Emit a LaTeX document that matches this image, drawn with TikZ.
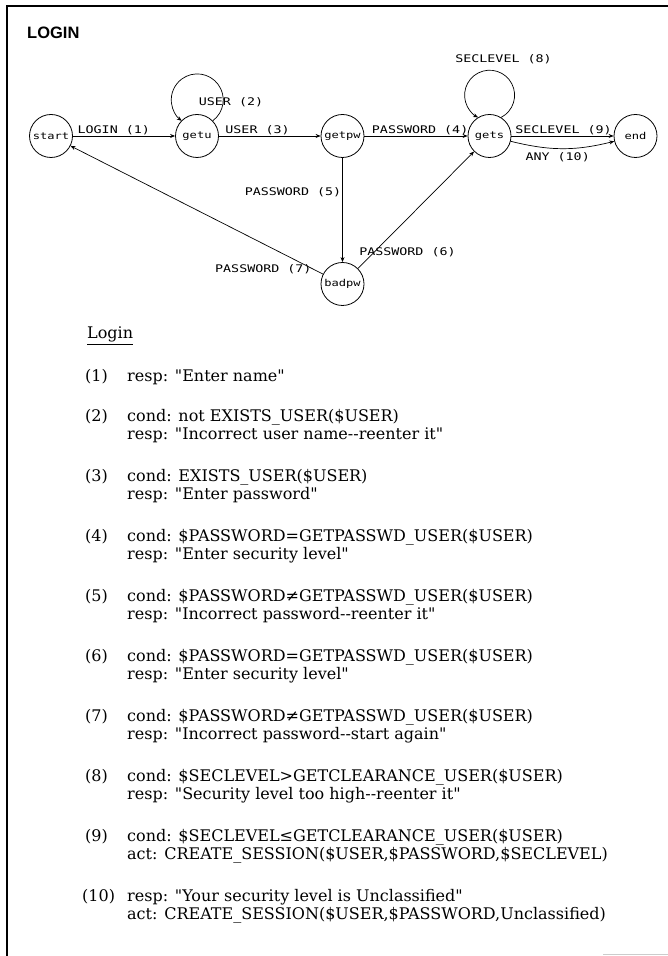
\documentclass[tikz,border=0pt]{standalone}
\usepackage{fontspec}
\setmainfont{DejaVu Serif}
\newfontfamily\plotfont[FakeStretch=1.27]{DejaVu Sans Mono}
\newfontfamily\headfont{Liberation Sans}
\usetikzlibrary{arrows.meta}
\newcommand\qt{\textquotedbl}
\tikzset{
  state/.style={draw, circle, line width=0.8pt, minimum size=43pt, inner sep=0pt,
    font=\plotfont\fontsize{9.5}{10}\selectfont},
  lbl/.style={inner sep=1pt, font=\plotfont\fontsize{10.5}{11}\selectfont},
  arr/.style={-{Stealth[length=5pt,width=4pt]}, line width=0.7pt},
  txt/.style={anchor=base west, inner sep=0pt, font=\fontsize{16}{19}\selectfont},
}
\begin{document}
\begin{tikzpicture}[x=1pt,y=1pt]
\useasboundingbox (0,0) rectangle (668,956);
% frame
\draw[line width=2pt] (668,950) -- (7,950) -- (7,0);
\draw[gray!40, line width=1pt] (603,1) -- (668,1);
\node[anchor=base west, inner sep=0pt, font=\headfont\bfseries\fontsize{16.5}{18}\selectfont] (title) at (27,917) {LOGIN};

% states
\node[state] (start) at (51,820) {start};
\node[state] (getu) at (197,820) {getu};
\node[state] (getpw) at (342.5,820) {getpw};
\node[state] (gets) at (489.5,820) {gets};
\node[state] (end) at (635.5,820) {end};
\node[state] (badpw) at (342.5,672) {badpw};

% transitions
\draw[arr] (start) -- node[lbl, above, pos=0.4] {LOGIN (1)} (getu);
\draw[arr] (getu.44) arc[start angle=-53.4, end angle=233.4, radius=26pt];
\node[lbl] (l2) at (231,853.5) {USER (2)};
\draw[arr] (getu) -- node[lbl, above, pos=0.38] {USER (3)} (getpw);
\draw[arr] (getpw) -- node[lbl, above, pos=0.54] {PASSWORD (4)} (gets);
\draw[arr] (getpw) -- node[lbl, left, pos=0.33] {PASSWORD (5)} (badpw);
\draw[arr] (badpw) -- node[lbl, pos=0, anchor=south west, yshift=10pt] {PASSWORD (6)} (gets);
\draw[arr] (badpw) -- node[lbl, pos=0.04, anchor=east] {PASSWORD (7)} (start);
\draw[arr] (gets.58) arc[start angle=-62.6, end angle=242.6, radius=25pt];
\node[lbl] (l8) at (503.5,897) {SECLEVEL (8)};
\draw[arr] (gets) -- node[lbl, above, pos=0.51] {SECLEVEL (9)} (end);
\draw[arr] (gets) to[bend right=14] node[lbl, below, pos=0.45, yshift=-3pt] {ANY (10)} (end);

% rules
\node[txt] (head) at (87,617) {\underline{Login}};
\node[txt] (n1) at (85,574) {(1)};
\node[txt] (r1) at (127,574) {resp: \qt Enter name\qt};
\node[txt] (n2) at (85,534) {(2)};
\node[txt] (c2) at (127,534) {cond: not EXISTS\_USER(\$USER)};
\node[txt] (r2) at (127,516) {resp: \qt Incorrect user name-{}-reenter it\qt};
\node[txt] (n3) at (85,474) {(3)};
\node[txt] (c3) at (127,474) {cond: EXISTS\_USER(\$USER)};
\node[txt] (r3) at (127,456) {resp: \qt Enter password\qt};
\node[txt] (n4) at (85,414) {(4)};
\node[txt] (c4) at (127,414) {cond: \$PASSWORD=GETPASSWD\_USER(\$USER)};
\node[txt] (r4) at (127,396) {resp: \qt Enter security level\qt};
\node[txt] (n5) at (85,354) {(5)};
\node[txt] (c5) at (127,354) {cond: \$PASSWORD≠GETPASSWD\_USER(\$USER)};
\node[txt] (r5) at (127,336) {resp: \qt Incorrect password-{}-reenter it\qt};
\node[txt] (n6) at (85,294) {(6)};
\node[txt] (c6) at (127,294) {cond: \$PASSWORD=GETPASSWD\_USER(\$USER)};
\node[txt] (r6) at (127,276) {resp: \qt Enter security level\qt};
\node[txt] (n7) at (85,234) {(7)};
\node[txt] (c7) at (127,234) {cond: \$PASSWORD≠GETPASSWD\_USER(\$USER)};
\node[txt] (r7) at (127,216) {resp: \qt Incorrect password-{}-start again\qt};
\node[txt] (n8) at (85,174) {(8)};
\node[txt] (c8) at (127,174) {cond: \$SECLEVEL>GETCLEARANCE\_USER(\$USER)};
\node[txt] (r8) at (127,156) {resp: \qt Security level too high-{}-reenter it\qt};
\node[txt] (n9) at (85,114) {(9)};
\node[txt] (c9) at (127,114) {cond: \$SECLEVEL≤GETCLEARANCE\_USER(\$USER)};
\node[txt] (a9) at (127,96) {act: CREATE\_SESSION(\$USER,\$PASSWORD,\$SECLEVEL)};
\node[txt] (n10) at (82,54) {(10)};
\node[txt] (r10) at (127,54) {resp: \qt Your security level is Unclassified\qt};
\node[txt] (a10) at (127,36) {act: CREATE\_SESSION(\$USER,\$PASSWORD,Unclassified)};
\end{tikzpicture}
\end{document}
